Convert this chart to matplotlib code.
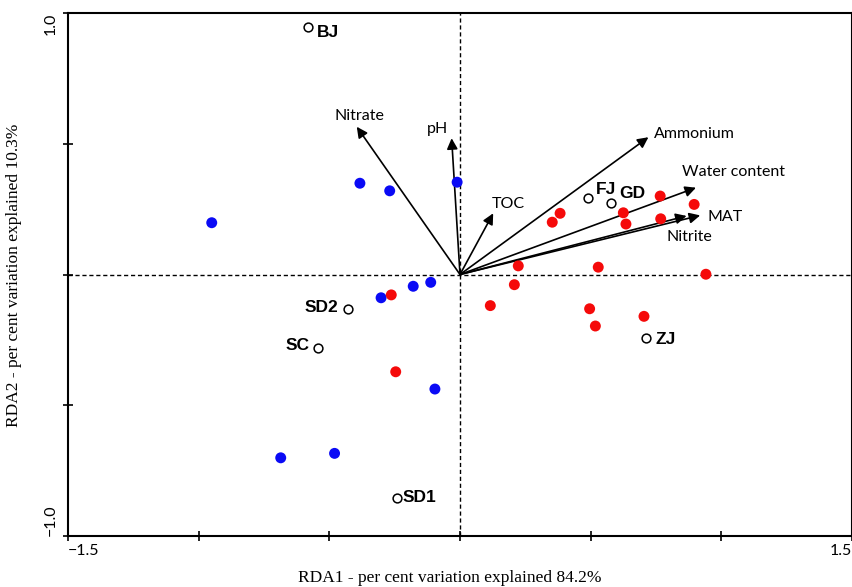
"""
RDA biplot: samples, sites and environmental vectors.
"""
import numpy as np
import matplotlib.pyplot as plt

# samples (RDA1, RDA2)
blue_x = [-0.950, -0.383, -0.269, -0.011, -0.302, -0.179, -0.112, -0.096, -0.686, -0.480]
blue_y = [0.198, 0.349, 0.320, 0.353, -0.089, -0.045, -0.030, -0.438, -0.701, -0.684]

red_x = [-0.263, -0.246, 0.353, 0.383, 0.625, 0.635, 0.766, 0.768, 0.896,
         0.223, 0.529, 0.941, 0.208, 0.116, 0.496, 0.518, 0.704]
red_y = [-0.078, -0.372, 0.200, 0.234, 0.236, 0.193, 0.300, 0.213, 0.268,
         0.033, 0.028, 0.001, -0.039, -0.119, -0.131, -0.197, -0.160]

# sites
site_names = ['BJ', 'FJ', 'GD', 'SD2', 'SC', 'SD1', 'ZJ']
site_x = [-0.580, 0.489, 0.578, -0.429, -0.542, -0.241, 0.712]
site_y = [0.946, 0.294, 0.272, -0.133, -0.281, -0.854, -0.244]

# environmental vectors
env_names = ['Nitrate', 'pH', 'TOC', 'Ammonium', 'Water content', 'MAT', 'Nitrite']
env_x = [-0.395, -0.032, 0.127, 0.721, 0.903, 0.919, 0.867]
env_y = [0.565, 0.521, 0.234, 0.525, 0.332, 0.226, 0.224]

# label placement (offset in points, alignment)
env_offsets = {
    'Nitrate': ((2, 8), 'center'),
    'pH': ((-10, 7), 'center'),
    'TOC': ((11, 7), 'center'),
    'Ammonium': ((4, 2), 'left'),
    'Water content': ((-10, 11), 'left'),
    'MAT': ((5, -1), 'left'),
    'Nitrite': ((2, -15), 'center'),
}
site_offsets = {
    'BJ': ((6, -4), 'left'),
    'FJ': ((6, 6), 'left'),
    'GD': ((6, 7), 'left'),
    'SD2': ((-7, 1), 'right'),
    'SC': ((-6, 2), 'right'),
    'SD1': ((4, 0), 'left'),
    'ZJ': ((7, -1), 'left'),
}

fig = plt.figure(figsize=(8.53, 5.87), dpi=100)
ax = fig.add_axes([68 / 853, 51 / 587, 784 / 853, 523 / 587])

ax.axhline(0, color='black', lw=1, ls=(0, (3, 2)), zorder=1)
ax.axvline(0, color='black', lw=1, ls=(0, (3, 2)), zorder=1)

for name, ex, ey in zip(env_names, env_x, env_y):
    ax.annotate('', xy=(ex, ey), xytext=(0, 0),
                arrowprops=dict(arrowstyle='-|>', color='black', lw=1.2,
                                mutation_scale=16, shrinkA=0, shrinkB=0),
                zorder=2)
    off, ha = env_offsets[name]
    ax.annotate(name, xy=(ex, ey), xytext=off, textcoords='offset points',
                ha=ha, va='center', fontsize=11.5, family='Lato', zorder=4)

ax.scatter(blue_x, blue_y, s=62, color='#0a0af5', edgecolors='none', zorder=3)
ax.scatter(red_x, red_y, s=62, color='#f50a0a', edgecolors='none', zorder=3)
ax.scatter(site_x, site_y, s=40, facecolors='white', edgecolors='black',
           linewidths=1.1, zorder=3)

for name, sx, sy in zip(site_names, site_x, site_y):
    off, ha = site_offsets[name]
    ax.annotate(name, xy=(sx, sy), xytext=off, textcoords='offset points',
                ha=ha, va='center', fontsize=12.5, fontweight='bold',
                family='Liberation Sans', zorder=4)

ax.set_xlim(-1.5, 1.5)
ax.set_ylim(-1.0, 1.0)
ax.set_xticks(np.arange(-1.5, 1.51, 0.5))
ax.set_xticklabels(['\u22121.5', '', '', '', '', '', '1.5'], family='Lato', fontsize=11.5)
ax.set_yticks(np.arange(-1.0, 1.01, 0.5))
ax.set_yticklabels(['\u22121.0', '', '', '', '1.0'], family='Lato', fontsize=11.5,
                   rotation=90)
xl = ax.get_xticklabels()
xl[0].set_ha('left')
xl[-1].set_ha('right')
yl = ax.get_yticklabels()
yl[0].set_va('bottom')
yl[-1].set_va('top')
ax.tick_params(direction='inout', length=7, width=1.2, pad=2)
ax.tick_params(axis='y', pad=4)
for sp in ax.spines.values():
    sp.set_linewidth(1.5)

fig.text(450 / 853, 1 - 578 / 587, 'RDA1 - per cent variation explained 84.2%',
         ha='center', va='center', family='Liberation Serif', fontsize=12.5)
fig.text(14 / 853, 1 - 275 / 587, 'RDA2 - per cent variation explained 10.3%',
         ha='center', va='center', rotation=90, family='Liberation Serif', fontsize=12.5)

fig.savefig('out.png', dpi=100)
